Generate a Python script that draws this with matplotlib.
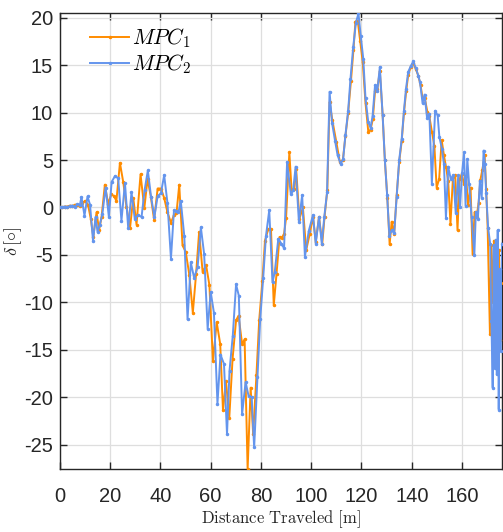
import matplotlib
matplotlib.use("Agg")
import matplotlib.pyplot as plt
from matplotlib import font_manager

names = {f.name for f in font_manager.fontManager.ttflist}
tick_font = "Liberation Sans Narrow" if "Liberation Sans Narrow" in names else "Liberation Sans"
plt.rcParams["font.family"] = [tick_font, "Liberation Sans", "DejaVu Sans"]
plt.rcParams["mathtext.fontset"] = "cm"
plt.rcParams["axes.unicode_minus"] = False

# ---------------- data ----------------
d_mpc1 = [0, 1, 2, 3, 4, 5, 6, 7, 8, 9, 10, 11.2, 12.3, 13.3, 14.6, 15.6, 16.6, 17.9, 19.2, 20.5,
          21.5, 22.5, 23.9, 25.2, 26.5, 27.9, 29.2, 30.5, 32.1, 33.6, 34.9, 36.2, 37.5, 38.9, 40.2,
          41.5, 42.8, 44.2, 45.4, 46.4, 47.5, 48.8, 50.1, 51.5, 52.9, 54.2, 55.4, 56.8, 58.2, 59.5,
          60.9, 62.4, 63.8, 64.9, 66.1, 67.4, 68.7, 70.1, 71.1, 72.5, 73.5, 74.7, 75.9, 76.9, 78.2,
          79.3, 80.6, 81.6, 82.9, 84.0, 85.1, 86.2, 87.4, 88.3, 89.2, 90.0, 91.3, 92.2, 93.3, 94.0,
          95.3, 96.7, 98.0, 99.4, 100.7, 101.8, 103.1, 104.4, 105.3, 106.4, 107.3, 108.4, 110.0,
          111.4, 112.6, 113.6, 114.7, 115.8, 116.8, 117.6, 118.5, 119.5, 120.5, 121.6, 122.7, 123.6,
          124.5, 125.4, 126.3, 127.3, 128.4, 129.3, 130.3, 131.2, 132.0, 133.0, 134.0, 135.0, 136.0,
          136.9, 137.8, 138.6, 139.6, 140.6, 141.6, 142.6, 143.5, 144.3, 145.2, 146.2, 147.0, 148.0,
          149.0, 149.9, 150.9, 151.9, 152.8, 153.6, 154.5, 155.4, 156.4, 157.3, 158.2, 159.0, 159.9,
          160.8, 161.6, 162.4, 163.4, 164.2, 165.0, 165.8, 166.6, 167.3, 168.1, 169.0, 169.6, 170.2,
          171.1, 171.6, 172.2, 172.7, 173.2, 173.7, 174.2, 174.7, 175.2, 175.6]
mpc1 = [0, 0.02, 0.1, 0.1, 0.2, 0.15, 0.3, 0.25, 0.2, 0.5, 0.7, 0.3, -1.2, -3.1, -0.5, -2.4, -1.0, 2.4, 0.4, 1.4,
        1.2, 0.7, 4.7, 2.7, 0.1, -2.2, 1.0, -1.8, 3.5, -0.1, 3.0, 1.1, -1.3, 2.0, 2.0,
        1.0, -0.5, -1.6, -0.8, -0.6, 2.4, -4.0, -4.7, -7.1, -11.1, -7.0, -2.6, -6.8, -6.1, -8.2,
        -16.2, -12.1, -14.4, -21.4, -18.3, -22.2, -16.0, -11.9, -11.4, -14.4, -13.9, -27.6, -19.0, -23.9, -17.7,
        -11.9, -7.7, -3.5, -2.3, -2.3, -10.3, -7.0, -3.1, -3.2, -2.8, -1.1, 5.8, 1.8, 2.0, 4.1,
        -1.2, 0.0, -4.5, -2.8, -1.0, -3.6, -1.0, -3.8, -1.0, 1.8, 11.1, 9.2, 6.9,
        4.8, 5.0, 7.5, 10.0, 13.3, 16.6, 19.6, 19.7, 17.5, 15.3, 11.0, 8.0, 8.2,
        9.3, 12.3, 12.5, 14.4, 9.8, 5.0, 1.0, -3.9, -1.5, -2.8, 1.3, 4.8, 7.0,
        10.0, 12.3, 14.0, 14.8, 15.2, 14.6, 13.9, 12.9, 11.5, 11.5, 10.1, 9.6, 8.0,
        6.5, 2.1, 3.0, 7.1, 5.5, 4.3, 2.8, -1.7, 3.2, 3.4, -2.4, 3.0, 3.5,
        2.5, 3.3, 0.3, 2.1, -4.9, -0.5, -1.0, 0.5, 2.9, 4.0, 5.5, 2.0, -2.2,
        -13.3, -4.0, -10.0, -3.5, -16.7, -6.0, -13.0, -4.5, -14.0, -8.0]

d_mpc2 = [0, 1, 2, 3, 4, 5, 6, 7, 8, 8.6, 9.8, 11, 12, 13.2, 14.2, 15, 15.9, 16.9, 18.2, 19.5,
          20.6, 21.9, 23.2, 24.5, 25.9, 27.2, 28.5, 29.8, 31.1, 32.5, 33.7, 35.0, 36.3, 37.6, 38.9,
          40.2, 41.5, 42.8, 44.2, 45.4, 46.4, 47.2, 48.1, 49.5, 50.8, 52.1, 53.4, 54.8, 56.1, 57.4,
          58.8, 60.0, 61.3, 62.7, 63.9, 65.3, 66.5, 67.5, 68.8, 70.1, 71.2, 72.5, 73.9, 75.1, 76.3,
          77.3, 78.6, 79.7, 80.9, 82.0, 83.3, 84.6, 85.5, 86.9, 88.1, 89.2, 90.4, 91.9, 92.8, 93.8,
          95.1, 96.4, 97.5, 99.0, 100.7, 101.8, 103.1, 104.2, 105.2, 106.3, 107.3, 108.3, 109.5,
          110.5, 111.7, 112.7, 113.6, 114.7, 115.6, 116.7, 117.8, 118.8, 119.7, 120.7, 121.6, 122.7,
          123.6, 124.4, 125.4, 126.3, 127.3, 128.4, 129.3, 130.2, 131.1, 132.0, 133.0, 134.0, 135.0,
          136.0, 136.9, 137.7, 138.6, 139.6, 140.6, 141.6, 142.6, 143.3, 144.3, 145.1, 146.1, 147.0,
          148.0, 149.3, 150.3, 151.0, 152.0, 152.8, 153.6, 154.5, 155.5, 156.5, 157.5, 158.5, 159.2,
          160.0, 160.8, 161.4, 162.1, 162.8, 163.8, 164.9, 165.5, 166.3, 167.1, 167.8, 168.6, 169.1,
          169.6, 170.4, 171.2, 171.7, 172.2, 172.6, 173.0, 173.4, 173.8, 174.2, 174.6, 175.0, 175.4,
          175.9]
mpc2 = [0, 0.05, 0.1, 0.05, 0.15, 0.2, 0.1, 0.35, 0.3, 1.1, -0.85, 1.16, 0.3, -3.55, -1.0, -2.6, -1.8, -0.7, 2.1, -1.0,
        2.7, 3.3, 3.1, -1.4, 2.6, -2.2, 1.6, -1.2, -0.8, -1.0, 1.8, 3.9, 1.1, -1.0, 1.2,
        1.5, 3.4, 0.5, -5.4, -0.3, -0.4, -0.5, 0.7, -3.0, -11.8, -5.8, -7.4, -6.3, -2.1, -4.9,
        -12.8, -8.9, -11.1, -20.7, -15.5, -16.5, -23.9, -17.2, -13.5, -8.1, -9.3, -21.8, -18.4, -19.9, -20.0,
        -25.3, -17.9, -11.8, -7.4, -3.0, -0.3, -7.9, -6.8, -3.3, -3.8, -4.3, 4.8, 1.4, 1.8, 4.3,
        -1.5, 1.3, -5.2, -2.5, -0.8, -3.8, -1.0, -3.8, -1.0, 1.6, 12.2, 8.9, 7.0,
        5.5, 4.6, 5.1, 7.6, 10.2, 13.5, 16.9, 19.5, 20.45, 18.1, 15.7, 11.5, 9.0,
        8.4, 9.6, 12.9, 12.3, 14.8, 9.8, 5.0, 1.3, -3.0, -2.4, -2.7, 1.1, 5.0,
        7.2, 10.2, 12.5, 14.3, 14.9, 15.4, 14.7, 13.9, 13.2, 11.0, 11.9, 9.4, 9.9,
        2.5, 10.2, 9.7, 7.4, 6.2, 4.6, -1.1, 4.3, 3.0, 3.4, -0.6, 3.4, 0.0,
        3.6, 5.8, 0.2, 5.1, 2.5, -1.0, -5.0, -0.5, -1.2, 2.8, 1.0, 6.0, 4.6,
        1.5, -2.2, -3.8, -12.0, -19.0, -4.0, -16.9, -3.4, -17.6, -2.4, -21.3, -6.5, -15.1,
        -3.8]

x_ticks = [0, 20, 40, 60, 80, 100, 120, 140, 160]
y_ticks = [-25, -20, -15, -10, -5, 0, 5, 10, 15, 20]

# ---------------- figure ----------------
fig = plt.figure(figsize=(5.03, 5.32), dpi=100)
ax = fig.add_axes([0.119, 0.1184, 0.879, 0.8566])

ax.plot(d_mpc1, mpc1, color="#FF8C00", lw=1.4, marker=".", ms=3, label=r"$MPC_1$", zorder=3)
ax.plot(d_mpc2, mpc2, color="#6495ED", lw=1.4, marker=".", ms=3, label=r"$MPC_2$", zorder=4)

ax.set_xlim(0, 175.9)
ax.set_ylim(-27.57, 20.47)
ax.set_xticks(x_ticks)
ax.set_yticks(y_ticks)
ax.grid(True, color="#dedede", lw=0.9)
ax.set_axisbelow(True)

for s in ax.spines.values():
    s.set_color("#262626")
    s.set_linewidth(1.0)
ax.tick_params(direction="in", top=True, right=True, length=5, width=1,
               color="#262626", labelcolor="#262626", labelsize=14.5)
ax.tick_params(axis="x", pad=13)
ax.tick_params(axis="y", pad=5)

ax.set_xlabel(r"$\mathrm{Distance\ Traveled\ [m]}$", fontsize=12, color="#262626", labelpad=1.5)
ax.set_ylabel(r"$\delta\,[\circ]$", fontsize=13, color="#262626")
ax.yaxis.set_label_coords(-0.08, 0.5)

leg = ax.legend(loc="upper left", bbox_to_anchor=(0.043, 0.995), frameon=False, borderpad=0,
                fontsize=15.5, handlelength=1.85, handletextpad=0.12, labelspacing=0.1)

fig.savefig("out.png", dpi=100)
